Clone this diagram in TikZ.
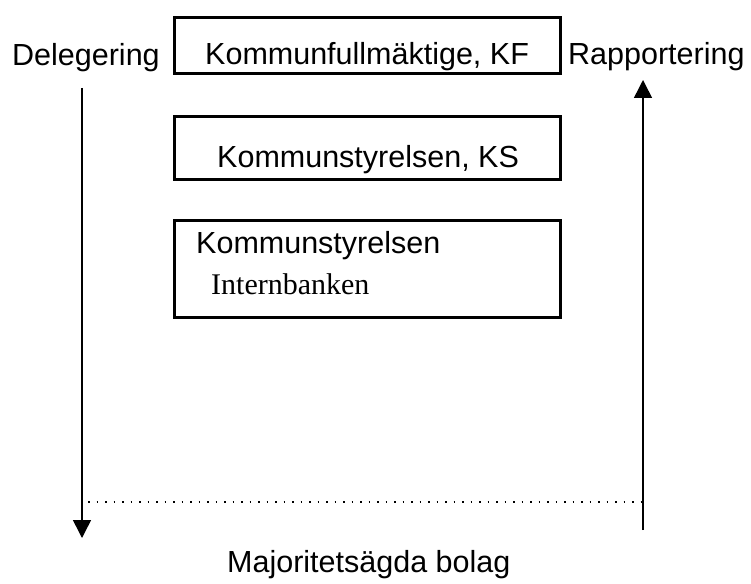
\documentclass[tikz,border=0pt]{standalone}
\usepackage{fontspec}
\setmainfont{Liberation Sans}
\newfontfamily\serifface{Liberation Serif}
\usetikzlibrary{arrows.meta}
\begin{document}
\begin{tikzpicture}[x=1pt,y=-1pt,
  lbl/.style={inner sep=0pt,anchor=base west,font=\fontsize{30.5}{34}\selectfont},
  orgbox/.style={draw,line width=3pt,minimum width=386pt,inner sep=0pt},
  flow/.style={line width=1.5pt,-{Triangle[width=18pt,length=18pt]}},
  guide/.style={line width=1.5pt,dash pattern=on 1.5pt off 7pt}]
\useasboundingbox (0,0) rectangle (751,583);
% boxes
\node[orgbox,minimum height=56pt] (kf) at (367,46) {};
\node[orgbox,minimum height=63pt] (ks) at (367,147.5) {};
\node[orgbox,minimum height=97pt] (ksib) at (367,268.5) {};
% texts
\node[lbl] (tkf) at (205,65) {Kommunfullmäktige, KF};
\node[lbl] (tks) at (217,167) {Kommunstyrelsen, KS};
\node[lbl] (tks2) at (196,253) {Kommunstyrelsen};
\node[inner sep=0pt,anchor=base west,font=\serifface\fontsize{30}{34}\selectfont] (tib) at (211,294) {Internbanken};
\node[lbl] (del) at (12,66) {Delegering};
\node[lbl] (rap) at (568,65) {Rapportering};
\node[lbl] (maj) at (227,572) {Majoritetsägda bolag};
% arrows
\coordinate (ls) at (82,88);
\coordinate (le) at (82,538);
\coordinate (rs) at (643,530);
\coordinate (re) at (643,80);
\draw[flow] (ls) -- (le);
\draw[flow] (rs) -- (re);
% dotted line
\coordinate (ds) at (88,502);
\coordinate (de) at (643,502);
\draw[guide] (ds) -- (de);
\end{tikzpicture}
\end{document}
